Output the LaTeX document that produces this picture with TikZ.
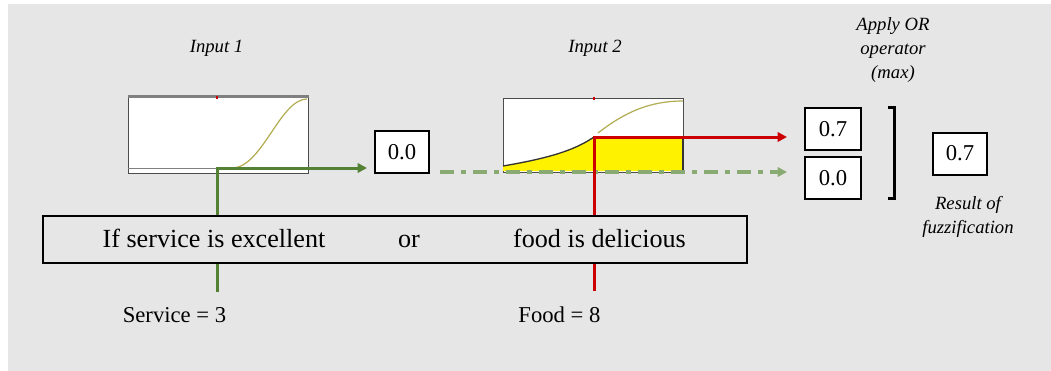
\documentclass[tikz,border=0pt]{standalone}
\usepackage{fontspec}
\setmainfont{Liberation Serif}
\usetikzlibrary{arrows.meta}
\definecolor{bg}{RGB}{230,230,230}
\definecolor{dkgreen}{RGB}{84,130,53}
\definecolor{ltgreen}{RGB}{138,170,115}
\definecolor{myred}{RGB}{204,0,0}
\definecolor{curveol}{RGB}{178,172,80}
\definecolor{axgray}{RGB}{128,128,128}
\begin{document}
\begin{tikzpicture}[x=0.75pt,y=-0.75pt,
  valbox/.style={draw=black,line width=1.5pt,fill=white,inner sep=0pt,
    minimum width=40.5pt,minimum height=31.5pt,font=\fontsize{17}{20}\selectfont},
  chartbox/.style={draw=black!70,line width=0.75pt,fill=white,inner sep=0pt,
    minimum width=135pt,minimum height=57pt},
  label/.style={font=\itshape\fontsize{14}{18}\selectfont,align=center,inner sep=0pt},
  ruletext/.style={font=\fontsize{19.6}{22}\selectfont,anchor=base,inner sep=0pt},
  valtext/.style={font=\fontsize{17}{20}\selectfont,anchor=base,inner sep=0pt},
  arrowtip/.style={-{Triangle[length=7pt,width=7pt]}},
  greenline/.style={draw=dkgreen,line width=2.25pt},
  redline/.style={draw=myred,line width=2.25pt},
  dashdotline/.style={draw=ltgreen,line width=2.5pt,
    dash pattern=on 10.5pt off 5.25pt on 3.75pt off 5.25pt},
  sigmoid/.style={draw=curveol,line width=0.9pt}]
\useasboundingbox (0,0) rectangle (1051,371);
\fill[white] (0,0) rectangle (1051,371);
\fill[bg] (8,4) rectangle (1051,371);

% labels
\node[label] (in1) at (216.5,48) {Input 1};
\node[label] (in2) at (595,48) {Input 2};
\node[label] (orop) at (893,50) {Apply OR\\operator\\(max)};
\node[label] (resf) at (968,217) {Result of\\fuzzification};

% chart 1
\node[chartbox] (chart1) at (218,135) {};
\draw[axgray,line width=1.8pt] (chart1.north west) -- (chart1.north east);
\draw[axgray,line width=1.2pt] ([yshift=3.75pt]chart1.south west) -- ([yshift=3.75pt]chart1.south east);
\draw[myred,line width=1pt] (217,96) -- (217,99);
\draw[sigmoid] (232,168) .. controls (262,168) and (280,99) .. (307,99);

% chart 2
\node[chartbox,minimum height=55.5pt] (chart2) at (593.5,135) {};
\draw[myred,line width=1pt] (594,97) -- (594,100);
\fill[yellow] (503,171) -- (503,166) .. controls (550,158) and (575,150) .. (594,137) -- (683,137) -- (683,171) -- cycle;
\draw[black!80,line width=1pt] (503,166) .. controls (550,158) and (575,150) .. (594,137);
\draw[black!80,line width=1pt] (683,137) -- (683,171);
\draw[sigmoid] (598,133) .. controls (625,112) and (650,101) .. (683,101);

% value boxes
\node[valbox] (v1) at (402,152) {0.0};
\node[valbox,minimum width=42pt] (v2) at (833,129) {0.7};
\node[valbox,minimum width=42pt] (v3) at (833,178) {0.0};
\node[valbox] (vr) at (960,153.5) {0.7};

% input coordinates
\coordinate (svc) at (217,292);
\coordinate (fod) at (594,291);
\coordinate (ddstart) at (440,172);

% connectors
\draw[dashdotline,arrowtip] (ddstart) -- ([xshift=-12.75pt]v3.west |- 0,172);
\draw[greenline,arrowtip] (svc) |- ([xshift=-5.25pt]v1.west |- 0,168);
\draw[redline,arrowtip] (fod) |- ([xshift=-12.75pt]v2.west |- 0,137);

% bracket
\draw[line width=2.25pt] (888,107) -- (894,107) -- (894,198) -- (888,198);

% rule box
\node[draw=black,line width=1.5pt,fill=bg,minimum width=528pt,minimum height=35.25pt,inner sep=0pt] (rule) at (395,239.5) {};
\node[ruletext] (r1) at (214,247) {If service is excellent};
\node[ruletext] (r2) at (409,247) {or};
\node[ruletext] (r3) at (599.5,247) {food is delicious};

% inputs
\node[valtext] (svl) at (174.5,322) {Service = 3};
\node[valtext] (fdl) at (559.5,322) {Food = 8};
\end{tikzpicture}
\end{document}
